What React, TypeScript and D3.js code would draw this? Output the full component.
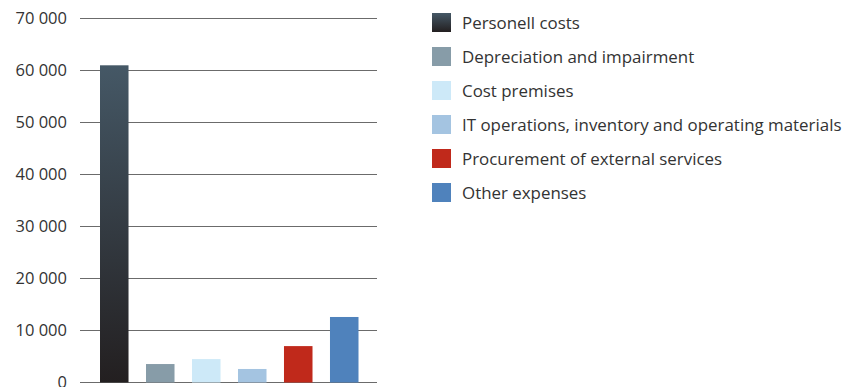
import React from "react";
import * as d3 from "d3";

const categories = [
  "Personell costs",
  "Depreciation and impairment",
  "Cost premises",
  "IT operations, inventory and operating materials",
  "Procurement of external services",
  "Other expenses",
];
const values = [61000, 3550, 4500, 2600, 7000, 12600];
const colors = ["url(#gradPersonell)", "#879ca8", "#cde9f8", "#a4c4e1", "#c0291b", "#4f82bc"];
const yTicks = [0, 10000, 20000, 30000, 40000, 50000, 60000, 70000];

const W = 844;
const H = 387;

export default function App() {
  const y = d3.scaleLinear().domain([0, 70000]).range([382.5, 18.5]);
  const x = d3.scaleBand<string>().domain(categories).range([100, 358.5]).paddingInner(0.38).paddingOuter(0);
  const fmt = (v: number) => d3.format(",")(v).replace(/,/g, " ");
  const font = "'Open Sans', sans-serif";
  return (
    <svg width={W} height={H} style={{ position: "absolute", left: 0, top: 0, background: "#fff" }}>
      <defs>
        <linearGradient id="gradPersonell" x1="0" y1="0" x2="0" y2="1">
          <stop offset="0" stopColor="#455866" />
          <stop offset="1" stopColor="#231f20" />
        </linearGradient>
      </defs>
      {yTicks.map((t) => (
        <g key={t}>
          <line x1={80} x2={377} y1={y(t)} y2={y(t)} stroke="#6b6b6b" strokeWidth={1.2} />
          <text x={67} y={y(t)} dy="0.36em" textAnchor="end" fontFamily={font} fontSize={16.5} fill="#333">
            {fmt(t)}
          </text>
        </g>
      ))}
      {categories.map((c, i) => (
        <rect key={c} x={x(c)} y={y(values[i])} width={x.bandwidth()} height={y(0) - y(values[i])} fill={colors[i]} />
      ))}
      {categories.map((c, i) => (
        <g key={"l" + c} transform={`translate(432, ${13 + i * 34})`}>
          <rect x={0} y={0} width={19} height={19} fill={colors[i]} />
          <text x={30} y={9.5} dy="0.36em" fontFamily={font} fontSize={16.9} fill="#333">
            {c}
          </text>
        </g>
      ))}
    </svg>
  );
}
